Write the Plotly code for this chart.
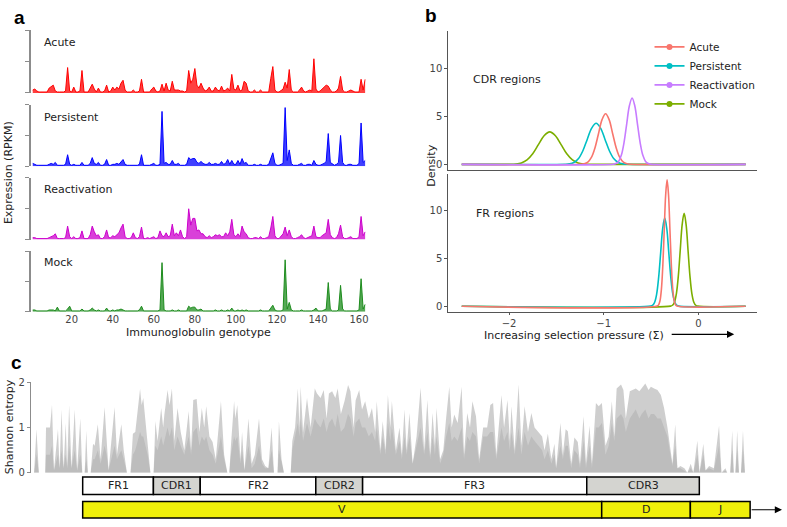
import plotly.graph_objects as go

# ---------------- Data ----------------
genotype = list(range(1, 164))

acute = [3, 4, 2, 1, 1, 1, 1, 1, 5, 7,
         8, 2, 1, 1, 1, 1, 2, 26, 2, 1,
         6, 1, 1, 2, 23, 1, 1, 1, 5, 9,
         4, 1, 5, 1, 1, 2, 8, 1, 2, 6,
         3, 6, 4, 10, 13, 3, 1, 1, 1, 3,
         1, 1, 2, 14, 1, 1, 1, 1, 4, 6,
         2, 1, 2, 9, 2, 10, 3, 2, 12, 3,
         3, 3, 2, 2, 1, 2, 23, 10, 14, 25,
         8, 5, 10, 5, 2, 3, 6, 2, 2, 6,
         3, 2, 7, 2, 3, 5, 2, 19, 4, 3,
         8, 2, 3, 12, 10, 2, 1, 1, 3, 1,
         1, 3, 1, 1, 1, 1, 15, 27, 3, 1,
         1, 3, 4, 11, 5, 24, 3, 1, 1, 1,
         3, 6, 2, 1, 2, 3, 2, 35, 4, 1,
         2, 4, 6, 8, 7, 3, 1, 1, 2, 5,
         17, 3, 1, 1, 2, 3, 2, 1, 1, 1,
         14, 3, 14]

persistent = [3, 2, 1, 1, 1, 1, 1, 1, 2, 3,
              2, 4, 1, 1, 1, 1, 2, 12, 2, 1,
              2, 1, 1, 1, 4, 1, 1, 1, 3, 9,
              3, 2, 4, 1, 1, 2, 7, 1, 1, 2,
              2, 3, 2, 4, 7, 2, 1, 1, 1, 1,
              1, 1, 2, 12, 1, 1, 1, 1, 2, 3,
              1, 1, 2, 57, 3, 4, 2, 2, 6, 2,
              2, 3, 1, 1, 1, 2, 9, 7, 8, 8,
              4, 3, 5, 3, 2, 2, 4, 2, 2, 3,
              2, 2, 5, 2, 3, 7, 2, 6, 2, 2,
              6, 2, 8, 3, 4, 1, 1, 1, 2, 1,
              1, 2, 1, 1, 1, 2, 8, 14, 3, 1,
              1, 2, 3, 61, 6, 17, 3, 1, 1, 1,
              2, 3, 1, 1, 2, 2, 1, 6, 2, 1,
              1, 2, 3, 5, 34, 4, 2, 1, 2, 4,
              32, 4, 1, 1, 2, 2, 1, 1, 1, 3,
              45, 4, 6]

reactivation = [2, 2, 1, 1, 1, 1, 1, 1, 2, 3,
                4, 6, 1, 1, 1, 1, 2, 14, 3, 1,
                3, 1, 1, 2, 9, 1, 1, 1, 5, 14,
                8, 4, 5, 1, 1, 3, 10, 2, 2, 4,
                3, 5, 7, 12, 16, 3, 1, 1, 2, 7,
                2, 1, 3, 13, 1, 1, 2, 1, 2, 3,
                1, 2, 9, 4, 3, 7, 3, 4, 16, 4,
                7, 4, 10, 3, 1, 3, 32, 15, 22, 22,
                9, 10, 6, 6, 3, 2, 4, 2, 3, 5,
                4, 5, 3, 3, 7, 4, 8, 21, 5, 3,
                6, 3, 14, 8, 6, 2, 1, 1, 2, 2,
                1, 3, 1, 1, 2, 3, 12, 24, 4, 1,
                1, 3, 6, 13, 4, 10, 3, 1, 1, 2,
                3, 5, 2, 1, 2, 3, 4, 14, 3, 2,
                2, 4, 6, 7, 21, 5, 2, 1, 2, 6,
                15, 3, 1, 1, 2, 3, 1, 1, 1, 3,
                24, 4, 8]

mock = [2, 2, 1, 1, 1, 1, 1, 1, 2, 2,
        2, 1, 5, 1, 1, 1, 1, 3, 6, 1,
        1, 1, 1, 1, 3, 1, 1, 1, 2, 4,
        2, 1, 2, 1, 1, 1, 4, 1, 1, 2,
        1, 2, 2, 3, 2, 1, 1, 1, 1, 1,
        1, 1, 2, 6, 1, 1, 1, 1, 1, 1,
        1, 1, 2, 52, 2, 1, 1, 1, 2, 1,
        1, 2, 1, 1, 1, 1, 6, 4, 5, 5,
        2, 2, 3, 1, 1, 1, 1, 1, 1, 2,
        1, 1, 2, 1, 1, 2, 1, 4, 1, 1,
        2, 1, 2, 1, 2, 1, 1, 1, 1, 1,
        1, 2, 1, 1, 1, 1, 4, 7, 2, 1,
        1, 1, 2, 55, 3, 10, 2, 1, 1, 1,
        1, 2, 1, 1, 1, 1, 1, 2, 4, 1,
        1, 1, 2, 3, 31, 3, 1, 1, 1, 2,
        28, 3, 1, 1, 1, 1, 1, 1, 1, 2,
        35, 3, 8]

expr_ticks = [20, 40, 60, 80, 100, 120, 140, 160]

# Panel b: density curves
cdr_mock_x = [-2.5, -2.05, -1.99, -1.93, -1.87, -1.81, -1.75, -1.69, -1.63, -1.57,
              -1.51, -1.45, -1.39, -1.33, -1.27, -1.21, -1.15, -1.09, 0.5]
cdr_mock_y = [0, 0, 0.01, 0.04, 0.15, 0.46, 1.10, 2.06, 3.0, 3.4,
              3.0, 2.06, 1.10, 0.46, 0.15, 0.04, 0.01, 0, 0]
cdr_pers_x = [-2.5, -1.409, -1.362, -1.315, -1.268, -1.221, -1.174, -1.127, -1.08,
              -1.033, -0.986, -0.939, -0.892, -0.845, -0.798, -0.751, 0.5]
cdr_pers_y = [0, 0.01, 0.05, 0.19, 0.58, 1.40, 2.61, 3.79, 4.3,
              3.79, 2.61, 1.40, 0.58, 0.19, 0.05, 0.01, 0]
cdr_acute_x = [-2.5, -1.2425, -1.205, -1.1675, -1.13, -1.0925, -1.055, -1.0175, -0.98,
               -0.9425, -0.905, -0.8675, -0.83, -0.7925, -0.755, -0.7175, 0.5]
cdr_acute_y = [0, 0.01, 0.06, 0.23, 0.72, 1.72, 3.21, 4.68, 5.3,
               4.68, 3.21, 1.72, 0.72, 0.23, 0.06, 0.01, 0]
cdr_react_x = [-2.5, -0.8995, -0.871, -0.8425, -0.814, -0.7855, -0.757, -0.7285, -0.70,
               -0.6715, -0.643, -0.6145, -0.586, -0.5575, -0.529, -0.5005, 0.5]
cdr_react_y = [0, 0.015, 0.08, 0.31, 0.94, 2.26, 4.22, 6.13, 6.95,
               6.13, 4.22, 2.26, 0.94, 0.31, 0.08, 0.015, 0]

fr_acute_x = [-2.5, -0.435, -0.42, -0.405, -0.39, -0.375, -0.36, -0.345, -0.33,
              -0.315, -0.30, -0.285, -0.27, -0.255, -0.24, -0.225, 0.5]
fr_acute_y = [0, 0.03, 0.15, 0.58, 1.79, 4.29, 8.0, 11.65, 13.2,
              11.65, 8.0, 4.29, 1.79, 0.58, 0.15, 0.03, 0]
fr_pers_x = [-2.5, -0.5055, -0.484, -0.4625, -0.441, -0.4195, -0.398, -0.3765, -0.355,
             -0.3335, -0.312, -0.2905, -0.269, -0.2475, -0.226, -0.2045, 0.5]
fr_pers_y = [0, 0.02, 0.10, 0.40, 1.24, 2.99, 5.58, 8.12, 9.2,
             8.12, 5.58, 2.99, 1.24, 0.40, 0.10, 0.02, 0]
fr_mock_x = [-2.5, -0.2935, -0.273, -0.2525, -0.232, -0.2115, -0.191, -0.1705, -0.15,
             -0.1295, -0.109, -0.0885, -0.068, -0.0475, -0.027, -0.0065, 0.5]
fr_mock_y = [0, 0.02, 0.11, 0.43, 1.31, 3.15, 5.88, 8.56, 9.7,
             8.56, 5.88, 3.15, 1.31, 0.43, 0.11, 0.02, 0]

sel_ticks = [-2, -1, 0]
dens_ticks = [0, 5, 10]

# Panel c: Shannon entropy profile (upper and lower layers)
entropy_pos = [
    0.8, 1.4, 2.0, 3.6, 3.8, 4.8, 5.3, 5.8, 6.8, 7.2, 7.7, 8.2, 8.75, 9.1, 9.6, 10.2,
    11.0, 11.6, 12.4, 12.9, 13.5, 13.9, 14.3, 15.0, 15.6, 16.0, 16.8, 17.5, 18.5, 19.0,
    19.5, 21.0, 21.6, 22.7, 23.3, 24.1, 25.0, 25.6, 26.2, 27.4, 27.8, 28.2, 29.3, 30.0,
    30.8, 31.25, 31.8, 32.7, 33.2, 33.5, 34.3, 34.8, 35.4, 36.0, 36.8, 37.6, 38.5, 39.6,
    40.2, 40.75, 41.6, 42.3, 42.9, 43.5, 44.0, 44.8, 45.6, 46.4, 47.7, 48.5, 49.3, 49.8,
    50.2, 51.0, 51.3, 51.8, 52.6, 53.0, 53.6, 54.6, 55.4, 56.2, 57.25, 58.0, 58.8, 59.6,
    60.4, 61.0, 61.9, 62.25, 62.9, 63.5, 65.2, 65.6, 66.3, 67.0, 67.4, 67.7, 68.3, 69.3,
    70.2, 71.25, 71.8, 72.7, 73.5, 74.2, 74.8, 75.6, 76.4, 77.0, 77.8, 78.7, 79.6, 80.2,
    81.0, 81.5, 82.4, 83.1, 83.9, 84.8, 85.6, 86.4, 86.8, 87.7, 88.3, 89.0, 89.6, 90.2,
    90.6, 91.6, 92.5, 93.1, 93.75, 94.3, 95.0, 95.8, 96.8, 97.8, 98.7, 99.5, 100.2, 100.8,
    101.4, 101.8, 102.7, 103.5, 104.2, 105.0, 105.6, 106.25, 107.1, 108.1, 108.7, 109.5,
    110.2, 110.8, 111.7, 112.5, 113.5, 114.5, 115.3, 116.0, 116.8, 118.1, 118.75, 119.6,
    120.2, 120.6, 121.4, 122.4, 123.1, 123.9, 124.75, 125.6, 126.4, 127.25, 128.3, 128.9,
    129.75, 130.6, 131.4, 131.8, 132.9, 133.5, 134.2, 134.75, 135.6, 136.4, 137.25, 137.8,
    138.7, 139.3, 140.2, 140.8, 141.8, 142.5, 143.3, 144.2, 145.0, 145.8, 146.4, 147.0,
    148.1, 148.7, 149.3, 150.3, 151.0, 151.8, 152.7, 153.3, 154.2, 155.0, 155.6, 156.4,
    157.25, 158.1, 158.9, 159.75, 160.3, 161.0, 161.7, 162.25, 163.0, 164.0, 164.75, 165.6,
    166.25, 167.25, 167.8, 168.75, 169.3, 170.2, 171.4, 172.7, 173.3, 174.3, 174.75, 175.5,
    176.0, 176.4, 176.8, 177.25, 177.7, 178.2, 178.7, 179.2]
entropy_hi = [
    0, 0.96, 0, 0, 1.0, 1.0, 1.5, 0.05, 0.96, 0.1, 1.4, 0.1, 1.1, 0.1, 1.5, 0.1,
    1.4, 0.05, 1.2, 0, 0, 0.93, 0, 0, 0.64, 0.6, 1.07, 0.3, 1.45, 0.86,
    0.05, 1.45, 0.4, 1.07, 0.5, 0, 0, 0.86, 0.9, 1.85, 1.5, 1.65, 0.6, 0,
    0, 1.14, 0.7, 1.43, 1.0, 1.29, 1.83, 1.5, 1.86, 0.7, 1.43, 0.9, 0.5, 1.36,
    0.5, 1.61, 1.63, 0.9, 1.43, 1.0, 1.47, 0.8, 0.68, 0.3, 1.58, 0.4, 0, 0,
    0.6, 1.58, 1.2, 1.5, 0.3, 0.9, 0.05, 1.2, 0.2, 0.4, 1.2, 0.3, 0.15, 0.1,
    1.0, 0, 0, 1.14, 0.3, 0, 0, 0.7, 1.0, 1.86, 1.0, 1.9, 0.9, 1.65,
    1.0, 1.86, 1.75, 1.65, 1.83, 1.2, 1.75, 1.8, 1.65, 1.86, 1.3, 1.58, 1.94, 1.8,
    1.0, 1.6, 1.83, 1.4, 1.58, 1.2, 1.43, 0.9, 1.58, 0.5, 1.14, 0.5, 1.72, 1.0,
    1.58, 0.5, 1.0, 0.4, 1.4, 0.5, 1.32, 0.2, 0.8, 1.88, 0.5, 1.61, 0.4, 1.32,
    0.6, 1.43, 0.3, 0.5, 1.2, 1.9, 1.0, 1.29, 1.1, 1.9, 0.4, 1.32,
    1.0, 1.58, 1.25, 0.3, 1.0, 1.0, 1.5, 1.54, 0.4, 1.72, 1.0, 1.61,
    0.7, 1.47, 0.5, 1.95, 0.6, 1.47, 0.9, 1.32, 1.0, 0.9, 0.8, 0.5,
    0.86, 0.3, 0.64, 0.1, 1.1, 0.4, 0.96, 0.92, 0.2, 0.78, 0.68, 0.2,
    1.25, 0.2, 1.04, 0.2, 1.54, 1.47, 1.54, 0.6, 0.8, 1.58, 0.8, 1.86,
    1.95, 1.83, 1.2, 1.8, 1.83, 1.86, 1.8, 1.88, 1.97, 1.83, 1.9, 1.86,
    1.83, 1.72, 1.43, 1.0, 0.6, 0.2, 1.07, 0.1, 0.15, 0.1, 0, 0.2,
    0, 0.71, 0, 0.64, 0.05, 0.15, 0.1, 1.04, 0, 0.1, 0, 0,
    0.93, 0, 0, 0.93, 0, 0, 0.93, 0]
entropy_lo = [
    0, 0.4, 0, 0, 0.4, 0.4, 0.6, 0.05, 0.4, 0.1, 0.5, 0.1, 0.4, 0.1, 0.6, 0.1,
    0.5, 0.05, 0.4, 0, 0, 0.3, 0, 0, 0.3, 0.3, 0.5, 0.2, 0.6, 0.4,
    0.05, 0.6, 0.3, 0.5, 0.3, 0, 0, 0.4, 0.5, 0.9, 0.8, 0.8, 0.4, 0,
    0, 0.6, 0.5, 0.8, 0.6, 0.7, 1.0, 0.8, 1.0, 0.5, 0.8, 0.6, 0.4, 0.8,
    0.4, 0.9, 1.0, 0.6, 0.8, 0.7, 0.8, 0.5, 0.4, 0.2, 0.8, 0.3, 0, 0,
    0.4, 0.8, 0.7, 0.8, 0.2, 0.5, 0.05, 0.6, 0.1, 0.2, 0.6, 0.2, 0.1, 0.1,
    0.5, 0, 0, 0.5, 0.2, 0, 0, 0.5, 0.8, 1.1, 0.8, 1.2, 0.7, 1.1,
    0.8, 1.2, 1.1, 1.0, 1.2, 0.9, 1.1, 1.2, 1.0, 1.3, 0.9, 1.0, 1.3, 1.2,
    0.8, 1.1, 1.2, 1.0, 1.0, 0.8, 0.9, 0.7, 1.0, 0.4, 0.8, 0.4, 1.1, 0.7,
    1.0, 0.4, 0.7, 0.3, 0.8, 0.4, 0.8, 0.2, 0.6, 1.0, 0.4, 0.9, 0.3, 0.8,
    0.4, 0.8, 0.2, 0.4, 0.8, 1.1, 0.7, 0.8, 0.7, 1.0, 0.3, 0.8,
    0.7, 0.9, 0.8, 0.2, 0.8, 0.8, 0.9, 0.9, 0.3, 1.0, 0.7, 0.9,
    0.5, 0.9, 0.4, 1.0, 0.4, 0.9, 0.6, 0.8, 0.7, 0.6, 0.5, 0.3,
    0.5, 0.2, 0.4, 0.1, 0.6, 0.3, 0.6, 0.6, 0.1, 0.5, 0.4, 0.1,
    0.7, 0.1, 0.6, 0.1, 1.0, 1.0, 1.1, 0.4, 0.6, 1.1, 0.7, 1.2,
    1.3, 1.2, 0.9, 1.2, 1.3, 1.4, 1.2, 1.3, 1.4, 1.2, 1.3, 1.3,
    1.2, 1.2, 1.0, 0.8, 0.5, 0.15, 0.6, 0.1, 0.1, 0.05, 0, 0.1,
    0, 0.4, 0, 0.4, 0.05, 0.1, 0.05, 0.6, 0, 0.05, 0, 0,
    0.5, 0, 0, 0.5, 0, 0, 0.5, 0]
entropy_ticks = [0, 1, 2]

region_names = ["FR1", "CDR1", "FR2", "CDR2", "FR3", "CDR3"]
region_bounds = [13, 30.75, 42.5, 71.5, 83.25, 139.5, 167.75]
gene_names = ["V", "D", "J"]
gene_bounds = [13, 143.25, 165.5, 180.5]
gene_arrow_end = 188.5

# ---------------- Layout helpers ----------------
W, H = 787, 527
FONT = "DejaVu Sans"


def px(x):
    return x / W


def py(y):
    return 1 - y / H


fig = go.Figure()

# ---- Panel a ----
panel_a = [
    ("Acute", acute, "y", "#ff0000", "rgba(255,0,0,0.75)"),
    ("Persistent", persistent, "y2", "#0000ff", "rgba(0,0,255,0.75)"),
    ("Reactivation", reactivation, "y3", "#cc00cc", "rgba(204,0,204,0.75)"),
    ("Mock", mock, "y4", "#1e8c1e", "rgba(30,140,30,0.75)"),
]
for name, vals, yax, col, fcol in panel_a:
    fig.add_trace(go.Scatter(x=genotype, y=vals, xaxis="x", yaxis=yax, mode="lines",
                             line=dict(color=col, width=1), fill="tozeroy", fillcolor=fcol,
                             showlegend=False, hoverinfo="skip"))

# ---- Panel b ----
b_colors = {"Acute": "#F8766D", "Persistent": "#00BFC4", "Reactivation": "#C77CFF", "Mock": "#7CAE00"}
top_curves = [("Mock", cdr_mock_x, cdr_mock_y), ("Persistent", cdr_pers_x, cdr_pers_y),
              ("Acute", cdr_acute_x, cdr_acute_y), ("Reactivation", cdr_react_x, cdr_react_y)]
for name, xs, ys in top_curves:
    fig.add_trace(go.Scatter(x=xs, y=ys, xaxis="x2", yaxis="y5", mode="lines",
                             line=dict(color=b_colors[name], width=1.6, shape="spline", smoothing=1),
                             showlegend=False, hoverinfo="skip"))
bot_curves = [("Mock", fr_mock_x, fr_mock_y), ("Persistent", fr_pers_x, fr_pers_y),
              ("Acute", fr_acute_x, fr_acute_y)]
for name, xs, ys in bot_curves:
    fig.add_trace(go.Scatter(x=xs, y=ys, xaxis="x3", yaxis="y6", mode="lines",
                             line=dict(color=b_colors[name], width=1.6, shape="spline", smoothing=1),
                             showlegend=False, hoverinfo="skip"))
for name in ["Acute", "Persistent", "Reactivation", "Mock"]:
    fig.add_trace(go.Scatter(x=[None], y=[None], xaxis="x2", yaxis="y5", mode="lines+markers",
                             name=name, line=dict(color=b_colors[name], width=1.6),
                             marker=dict(color=b_colors[name], size=6)))

# ---- Panel c ----
fig.add_trace(go.Scatter(x=entropy_pos, y=entropy_hi, xaxis="x4", yaxis="y7", mode="lines",
                         line=dict(width=0, color="rgba(0,0,0,0)"), fill="tozeroy",
                         fillcolor="rgba(165,165,165,0.55)", showlegend=False, hoverinfo="skip"))
fig.add_trace(go.Scatter(x=entropy_pos, y=entropy_lo, xaxis="x4", yaxis="y7", mode="lines",
                         line=dict(width=0, color="rgba(0,0,0,0)"), fill="tozeroy",
                         fillcolor="rgba(150,150,150,0.3)", showlegend=False, hoverinfo="skip"))

shapes = []
annotations = []

region_top, region_bot = py(482), py(500)
for i, nm in enumerate(region_names):
    x0, x1 = region_bounds[i], region_bounds[i + 1]
    shapes.append(dict(type="rect", xref="x4", yref="paper", x0=x0, x1=x1, y0=region_bot, y1=region_top,
                       line=dict(color="black", width=1.5),
                       fillcolor="#d4d4d0" if nm.startswith("CDR") else "white"))
    annotations.append(dict(xref="x4", yref="paper", x=(x0 + x1) / 2, y=(region_top + region_bot) / 2,
                            yanchor="middle", text=nm, showarrow=False, font=dict(size=11, color="#222")))

gene_top, gene_bot = py(507), py(524)
for i, nm in enumerate(gene_names):
    x0, x1 = gene_bounds[i], gene_bounds[i + 1]
    shapes.append(dict(type="rect", xref="x4", yref="paper", x0=x0, x1=x1, y0=gene_bot, y1=gene_top,
                       line=dict(color="black", width=1.5), fillcolor="#f0f00a"))
    annotations.append(dict(xref="x4", yref="paper", x=(x0 + x1) / 2, y=(gene_top + gene_bot) / 2,
                            yanchor="middle", text=nm, showarrow=False, font=dict(size=11, color="#222")))
annotations.append(dict(xref="x4", yref="paper", axref="x4", ayref="pixel",
                        x=gene_arrow_end, y=(gene_top + gene_bot) / 2,
                        ax=gene_bounds[-1], ay=0,
                        text="", showarrow=True, arrowhead=2, arrowsize=1.2, arrowwidth=1.2,
                        arrowcolor="black"))


# Text annotations
def txt(x, y, s, size=11, xanchor="center", angle=0, color="#222", family=FONT):
    annotations.append(dict(xref="paper", yref="paper", x=px(x), y=py(y), text=s, showarrow=False,
                            xanchor=xanchor, yanchor="middle", textangle=angle,
                            font=dict(size=size, color=color, family=family)))


txt(20, 12, "<b>a</b>", size=19, color="black", family="Liberation Sans")
txt(433, 10, "<b>b</b>", size=19, color="black", family="Liberation Sans")
txt(17, 365, "<b>c</b>", size=19, color="black", family="Liberation Sans")

txt(42, 37, "Acute", xanchor="left")
txt(42, 114, "Persistent", xanchor="left")
txt(42, 188, "Reactivation", xanchor="left")
txt(42, 262, "Mock", xanchor="left")
txt(8, 170, "Expression (RPKM)", angle=-90)
txt(199, 334, "Immunoglobulin genotype")

txt(433, 163, "Density", angle=-90)
txt(473, 75, "CDR regions", xanchor="left")
txt(476, 212, "FR regions", xanchor="left")
txt(576, 337, "Increasing selection pressure (Σ)")
annotations.append(dict(xref="paper", yref="paper", axref="pixel", ayref="pixel",
                        x=px(737), y=py(336), ax=-64, ay=0, text="", showarrow=True,
                        arrowhead=2, arrowsize=1.2, arrowwidth=1.2, arrowcolor="black"))

txt(9, 430, "Shannon entropy", angle=-90)

# ---------------- Axes ----------------
tickfont = dict(size=10, color="#444", family=FONT)
a_domains = [(89, 25), (164, 101), (239, 176), (313, 251)]
layout_axes = {}
for i, (b, t) in enumerate(a_domains):
    key = "yaxis" if i == 0 else f"yaxis{i + 1}"
    layout_axes[key] = dict(domain=[py(b), py(t)], range=[0, 64], anchor="x",
                            tickvals=[0, 32, 64], ticks="outside", ticklen=4, tickcolor="#8c8c8c",
                            showticklabels=False, showline=True, linecolor="#8c8c8c", linewidth=1.5,
                            showgrid=False, zeroline=False)
layout_axes["xaxis"] = dict(domain=[px(31), px(367)], range=[0.1, 163.2], anchor="y4",
                            tickvals=expr_ticks, ticks="", showline=False, showgrid=False,
                            zeroline=False, tickfont=tickfont)

b_xrange = [-2.642, 0.621]
layout_axes["xaxis2"] = dict(domain=[px(450), px(760)], range=b_xrange, anchor="y5",
                             showticklabels=False, ticks="", showline=True, linecolor="#555",
                             linewidth=1, showgrid=False, zeroline=False)
layout_axes["yaxis5"] = dict(domain=[py(168), py(26)], range=[-0.61, 13.92], anchor="x2",
                             tickvals=dens_ticks, ticks="outside", ticklen=3, tickcolor="#555",
                             showline=True, linecolor="#555", linewidth=1, showgrid=False,
                             zeroline=False, tickfont=tickfont)
layout_axes["xaxis3"] = dict(domain=[px(450), px(760)], range=b_xrange, anchor="y6",
                             tickvals=sel_ticks, ticks="outside", ticklen=2, tickcolor="#555",
                             showline=True, linecolor="#555", linewidth=1, showgrid=False,
                             zeroline=False, tickfont=tickfont)
layout_axes["yaxis6"] = dict(domain=[py(313), py(172)], range=[-0.58, 13.8], anchor="x3",
                             tickvals=dens_ticks, ticks="outside", ticklen=3, tickcolor="#555",
                             showline=True, linecolor="#555", linewidth=1, showgrid=False,
                             zeroline=False, tickfont=tickfont)

layout_axes["xaxis4"] = dict(domain=[px(31), px(787)], range=[0, 189], anchor="y7",
                             visible=False, showgrid=False, zeroline=False)
layout_axes["yaxis7"] = dict(domain=[py(477.7), py(385)], range=[0, 2], anchor="x4",
                             tickvals=entropy_ticks, ticks="outside", ticklen=3, tickcolor="#8c8c8c",
                             showline=True, linecolor="#8c8c8c", linewidth=1.2, showgrid=False,
                             zeroline=False, tickfont=tickfont)

fig.update_layout(
    width=W, height=H,
    margin=dict(l=0, r=0, t=0, b=0),
    paper_bgcolor="white", plot_bgcolor="white",
    font=dict(family=FONT, size=11, color="#222"),
    showlegend=True,
    legend=dict(x=px(652), y=py(27), xanchor="left", yanchor="top",
                bgcolor="rgba(0,0,0,0)", font=dict(size=10.5, color="#222"),
                tracegroupgap=0, itemwidth=30),
    shapes=shapes,
    annotations=annotations,
    **layout_axes,
)

fig.write_html("out.html", config={"displayModeBar": False},
               post_script="document.body.style.margin='0';document.body.style.overflow='hidden';")
